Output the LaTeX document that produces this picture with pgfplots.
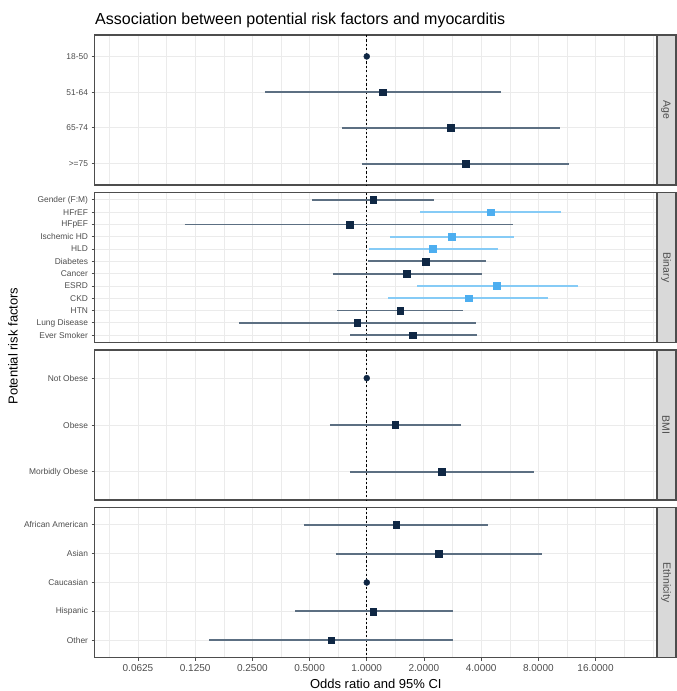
\documentclass[border=0pt]{standalone}
\usepackage{pgfplots}
\pgfplotsset{compat=1.18}
\usepackage{fontspec}
\setmainfont{Liberation Sans}
\definecolor{darkpt}{HTML}{0F2744}
\definecolor{darkline}{HTML}{5C6F82}
\definecolor{lightpt}{HTML}{4DAEF0}
\definecolor{lightline}{HTML}{86CBF6}
\definecolor{gridc}{HTML}{EBEBEB}
\definecolor{framec}{HTML}{4D4D4D}
\definecolor{tickc}{HTML}{4D4D4D}
\definecolor{stripc}{HTML}{D9D9D9}
\newcommand{\ci}[4]{\addplot[#4, line width=1.9pt, forget plot] coordinates {(#1,#3) (#2,#3)};}
\pgfplotsset{
  fpanel/.style={
    scale only axis, width=562.5pt, height=150pt, anchor=north west,
    xmin=0.0369, xmax=33.7,
    y dir=reverse,
    xtick={0.0625,0.125,0.25,0.5,1,2,4,8,16},
    minor xtick={0.04419,0.08839,0.17678,0.35355,0.70711,1.41421,2.82843,5.65685,11.3137,22.6274,32},
    xmajorgrids, xminorgrids, ymajorgrids,
    major grid style={draw=gridc, line width=0.9pt},
    minor grid style={draw=gridc, line width=0.45pt},
    axis line style={draw=framec, line width=1.1pt},
    tick align=outside, ytick pos=left, xtick pos=bottom,
    major tick length=3pt, minor tick length=0pt,
    tick style={draw=framec, line width=0.8pt},
    yticklabel style={font=\fontsize{8.4}{10}\selectfont, text=tickc},
    xticklabel style={font=\fontsize{10}{12}\selectfont, text=tickc},
  },
  nox/.style={xticklabels={}, xtick style={draw=none}},
  refpt/.style={only marks, mark=*, mark size=3pt, mark options={fill=darkpt, draw=darkpt}},
  dpt/.style={only marks, mark=square*, mark size=3.4pt, mark options={fill=darkpt, draw=darkpt}},
  lpt/.style={only marks, mark=square*, mark size=3.4pt, mark options={fill=lightpt, draw=lightpt}},
  vref/.style={black, line width=0.7pt, dash pattern=on 2.2pt off 2.2pt},
}
\begin{document}
\begin{tikzpicture}[x=1pt,y=1pt]
\useasboundingbox (0,0) rectangle (677,-691);
\node[anchor=west, inner sep=0pt, font=\fontsize{16}{18}\selectfont, text=black] at (95,-20) {Association between potential risk factors and myocarditis};
\node[rotate=90, font=\fontsize{13}{15}\selectfont, text=black] at (13,-346) {Potential risk factors};
\node[font=\fontsize{13}{15}\selectfont, text=black] at (375.8,-684) {Odds ratio and 95\% CI};

% Age
\begin{axis}[xmode=log, fpanel, nox, at={(94.5pt,-35pt)}, ymin=0.4, ymax=4.6, ytick={1,2,3,4},
  yticklabels={18-50, 51-64, 65-74, >=75}]
\addplot[vref, forget plot] coordinates {(1,0.4) (1,4.6)};
\ci{0.291}{5.07}{2}{darkline}
\ci{0.74}{10.4}{3}{darkline}
\ci{0.945}{11.6}{4}{darkline}
\addplot[refpt] coordinates {(1,1)};
\addplot[dpt] coordinates {(1.21,2) (2.77,3) (3.33,4)};
\end{axis}

% Binary
\begin{axis}[xmode=log, fpanel, nox, at={(94.5pt,-192.5pt)}, ymin=0.4, ymax=12.6, ytick={1,...,12},
  yticklabels={Gender (F:M), HFrEF, HFpEF, Ischemic HD, HLD, Diabetes, Cancer, ESRD, CKD, HTN, Lung Disease, Ever Smoker}]
\addplot[vref, forget plot] coordinates {(1,0.4) (1,12.6)};
\ci{0.515}{2.26}{1}{darkline}
\ci{1.91}{10.5}{2}{lightline}
\ci{0.11}{5.89}{3}{darkline}
\ci{1.33}{5.97}{4}{lightline}
\ci{1.03}{4.91}{5}{lightline}
\ci{1.02}{4.25}{6}{darkline}
\ci{0.665}{4.05}{7}{darkline}
\ci{1.84}{12.9}{8}{lightline}
\ci{1.30}{9.0}{9}{lightline}
\ci{0.70}{3.21}{10}{darkline}
\ci{0.213}{3.76}{11}{darkline}
\ci{0.82}{3.81}{12}{darkline}
\addplot[dpt] coordinates {(1.08,1) (0.81,3) (2.05,6) (1.63,7) (1.50,10) (0.89,11) (1.75,12)};
\addplot[lpt] coordinates {(4.51,2) (2.81,4) (2.23,5) (4.85,8) (3.45,9)};
\end{axis}

% BMI
\begin{axis}[xmode=log, fpanel, nox, at={(94.5pt,-350pt)}, ymin=0.4, ymax=3.6, ytick={1,2,3},
  yticklabels={Not Obese, Obese, Morbidly Obese}]
\addplot[vref, forget plot] coordinates {(1,0.4) (1,3.6)};
\ci{0.64}{3.13}{2}{darkline}
\ci{0.82}{7.59}{3}{darkline}
\addplot[refpt] coordinates {(1,1)};
\addplot[dpt] coordinates {(1.41,2) (2.49,3)};
\end{axis}

% Ethnicity
\begin{axis}[xmode=log, fpanel, at={(94.5pt,-507.5pt)}, ymin=0.4, ymax=5.6, ytick={1,...,5},
  yticklabels={African American, Asian, Caucasian, Hispanic, Other},
  xticklabels={0.0625,0.1250,0.2500,0.5000,1.0000,2.0000,4.0000,8.0000,16.0000}]
\addplot[vref, forget plot] coordinates {(1,0.4) (1,5.6)};
\ci{0.467}{4.35}{1}{darkline}
\ci{0.69}{8.36}{2}{darkline}
\ci{0.42}{2.85}{4}{darkline}
\ci{0.148}{2.85}{5}{darkline}
\addplot[refpt] coordinates {(1,3)};
\addplot[dpt] coordinates {(1.43,1) (2.40,2) (1.08,4) (0.65,5)};
\end{axis}

% strips
\foreach \t/\lab in {35/Age, 192.5/Binary, 350/BMI, 507.5/Ethnicity}{
  \fill[stripc] (657,-\t) rectangle (676,-\t-150);
  \draw[framec, line width=1.1pt] (657,-\t) rectangle (676,-\t-150);
  \node[rotate=-90, font=\fontsize{10.5}{12}\selectfont, text=tickc] at (666,-\t-75) {\lab};
}
\end{tikzpicture}
\end{document}
